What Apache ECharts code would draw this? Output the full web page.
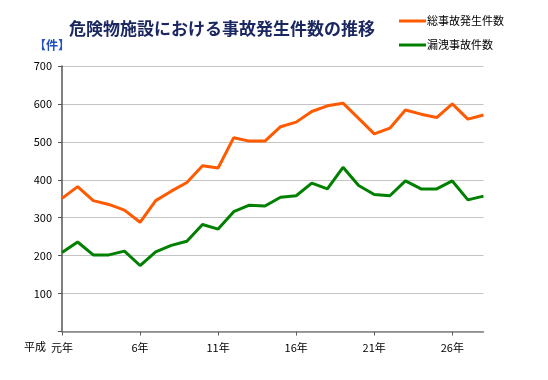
<!DOCTYPE html>
<html><head><meta charset="utf-8">
<script src="https://cdn.jsdelivr.net/npm/echarts@6/dist/echarts.min.js"></script>
<style>html,body{margin:0;padding:0;background:#fff}#c{width:548px;height:380px}</style>
</head><body><div id="c"></div>
<script>
const years = ['元年','2年','3年','4年','5年','6年','7年','8年','9年','10年','11年','12年','13年','14年','15年','16年','17年','18年','19年','20年','21年','22年','23年','24年','25年','26年','27年','28年'];
const totalAccidents = [351,382,345,335,320,288,345,370,393,437,431,511,502,502,540,552,580,595,602,562,521,536,584,573,564,600,560,571];
const leakAccidents = [208,236,202,202,212,174,210,227,238,282,270,316,333,331,354,358,391,376,433,385,361,358,397,376,376,397,347,357];
const yTicks = [100,200,300,400,500,600,700];
const seriesNames = ['総事故発生件数','漏洩事故件数'];

const FONT = '"Noto Sans CJK JP", sans-serif';
const chart = echarts.init(document.getElementById('c'), null, {renderer:'canvas'});
chart.setOption({
  animation:false,
  textStyle:{fontFamily:FONT},
  title:{text:'危険物施設における事故発生件数の推移', left:64, top:15,
    textStyle:{fontFamily:FONT, fontSize:17, fontWeight:'bold', color:'#1b2760'}},
  legend:{orient:'vertical', left:394, top:7, itemWidth:27, itemHeight:3, itemGap:6,
    icon:'rect', data:seriesNames,
    textStyle:{fontFamily:FONT, fontSize:11, color:'#000', lineHeight:14, padding:[0,0,4,-4]}},
  graphic:[
    {type:'text', left:34, top:39, style:{text:'【件】', fill:'#1f4fc0', font:'bold 12px '+FONT}},
    {type:'text', left:24, top:341, style:{text:'平成', fill:'#000', font:'11px '+FONT}}
  ],
  grid:{left:62, right:64.5, top:66, bottom:48.5, containLabel:false},
  xAxis:{type:'category', data:years, boundaryGap:false,
    axisLine:{lineStyle:{color:'#808080', width:1.5}},
    axisTick:{interval:4, length:4, lineStyle:{color:'#606060'}},
    axisLabel:{interval:4, color:'#000', fontSize:11, margin:11, fontFamily:FONT},
    splitLine:{show:false}},
  yAxis:{type:'value', min:0, max:700, interval:100,
    axisLine:{show:true, lineStyle:{color:'#555', width:1.5}},
    axisTick:{show:true, length:4, lineStyle:{color:'#555'}},
    axisLabel:{color:'#000', fontSize:11, margin:10, fontFamily:FONT,
      formatter:v => yTicks.indexOf(v) >= 0 ? String(v) : ''},
    splitLine:{lineStyle:{color:'#c4c4c4', width:1}}},
  series:[
    {name:seriesNames[0], type:'line', data:totalAccidents, symbol:'none',
      lineStyle:{color:'#ff5a00', width:3}, itemStyle:{color:'#ff5a00'}},
    {name:seriesNames[1], type:'line', data:leakAccidents, symbol:'none',
      lineStyle:{color:'#008000', width:3}, itemStyle:{color:'#008000'}}
  ]
});
</script></body></html>
